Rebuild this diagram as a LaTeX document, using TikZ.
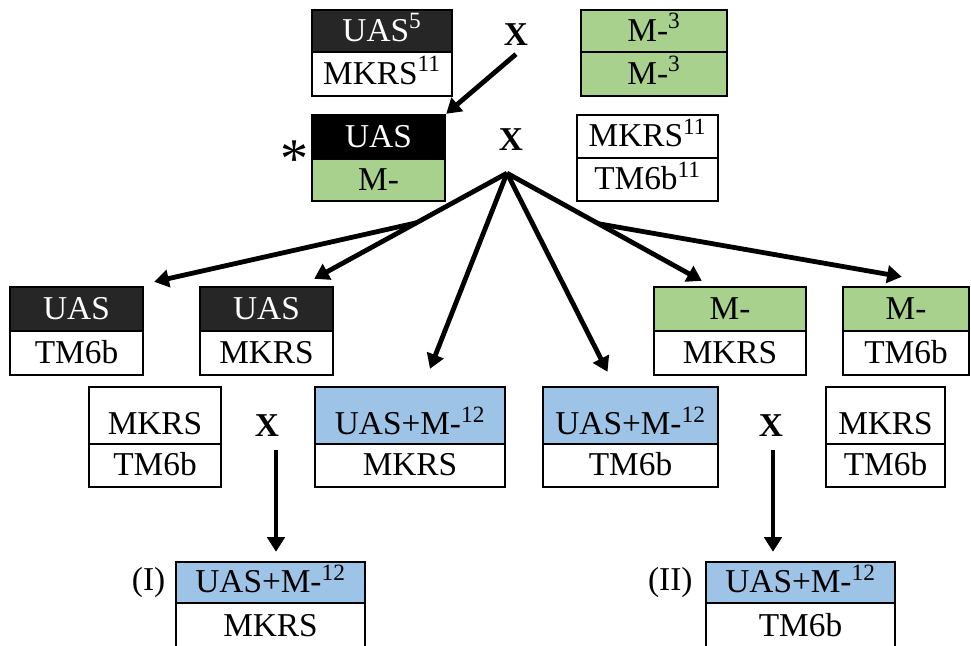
\documentclass[tikz,border=0pt]{standalone}
\usepackage{fontspec}
\setmainfont{Liberation Serif}
\usepackage{tikz}
\usetikzlibrary{arrows.meta,calc}
\definecolor{uasgray}{HTML}{262626}
\definecolor{mgreen}{HTML}{A9D18E}
\definecolor{mblue}{HTML}{9DC3E6}
\newcommand{\cellfont}{\fontsize{25}{30}\selectfont}

\begin{document}
\begin{tikzpicture}[x=0.75pt,y=-0.75pt]
                \tikzset{cell/.style = {draw, line width=1.8pt, inner sep=0pt, font=\cellfont, text height=20pt, text depth=5pt}}
                \tikzset{wd/.style = {minimum width=#1*0.75pt}}
                \tikzset{ht/.style = {minimum height=#1*0.75pt}}
                \tikzset{tall/.style = {text height=34pt, minimum height=57*0.75pt}}
                \tikzset{darkcell/.style = {cell, fill=uasgray, text=white}}
                \tikzset{blackcell/.style = {cell, fill=black, text=white}}
                \tikzset{greencell/.style = {cell, fill=mgreen}}
                \tikzset{bluecell/.style = {cell, fill=mblue}}
                \tikzset{cross/.style = {font=\cellfont\bfseries, inner sep=0pt}}
                \tikzset{edge/.style = {-{Triangle[length=11pt,width=13pt]}, line width=3.6pt}}
                \useasboundingbox (0,0) rectangle (971,646);

                % parents
                \node[darkcell, wd=140, ht=42] (a1) at (382,31) {UAS\textsuperscript{5}};
                \node[cell, wd=140, ht=44] (a2) at (382,74) {MKRS\textsuperscript{11}};
                \node[cross] (xtop) at (516,35) {X};
                \node[greencell, wd=146, ht=42] (b1) at (654,31) {M-\textsuperscript{3}};
                \node[greencell, wd=146, ht=44] (b2) at (654,74) {M-\textsuperscript{3}};

                \node[blackcell, wd=133, ht=44] (c1) at (378.5,137) {UAS};
                \node[greencell, wd=133, ht=42] (c2) at (378.5,180) {M-};
                \node[inner sep=0pt, font=\fontsize{42}{42}\selectfont] (star) at (294,159) {*};
                \node[cross] (xmid) at (511,140) {X};
                \node[cell, wd=141, ht=43] (d1) at (647.5,136.5) {MKRS\textsuperscript{11}};
                \node[cell, wd=141, ht=43] (d2) at (647.5,179.5) {TM6b\textsuperscript{11}};

                % offspring
                \node[darkcell, wd=133, ht=44] (e1) at (76.5,309) {UAS};
                \node[cell, wd=133, ht=44] (e2) at (76.5,353) {TM6b};
                \node[darkcell, wd=133, ht=44] (f1) at (266.5,309) {UAS};
                \node[cell, wd=133, ht=44] (f2) at (266.5,353) {MKRS};
                \node[greencell, wd=152, ht=44] (g1) at (730,309) {M-};
                \node[cell, wd=152, ht=44] (g2) at (730,353) {MKRS};
                \node[greencell, wd=126, ht=44] (h1) at (906,309) {M-};
                \node[cell, wd=126, ht=44] (h2) at (906,353) {TM6b};

                \node[cell, tall, wd=132] (i1) at (155,415.5) {MKRS};
                \node[cell, wd=132, ht=43] (i2) at (155,465.5) {TM6b};
                \node[cross] (xl) at (267,426) {X};
                \node[bluecell, tall, wd=190] (j1) at (410,415.5) {UAS+M-\textsuperscript{12}};
                \node[cell, wd=190, ht=43] (j2) at (410,465.5) {MKRS};
                \node[bluecell, tall, wd=175] (k1) at (630.5,415.5) {UAS+M-\textsuperscript{12}};
                \node[cell, wd=175, ht=43] (k2) at (630.5,465.5) {TM6b};
                \node[cross] (xr) at (771,426) {X};
                \node[cell, tall, wd=119] (l1) at (885.5,415.5) {MKRS};
                \node[cell, wd=119, ht=43] (l2) at (885.5,465.5) {TM6b};

                % stocks
                \node[bluecell, wd=189, ht=41] (m1) at (270.5,582.5) {UAS+M-\textsuperscript{12}};
                \node[cell, wd=189, ht=46] (m2) at (270.5,626) {MKRS};
                \node[anchor=east, inner sep=1pt, font=\cellfont] (lab1) at ([xshift=-6]m1.west) {(I)};
                \node[bluecell, wd=189, ht=41] (n1) at (800.5,582.5) {UAS+M-\textsuperscript{12}};
                \node[cell, wd=189, ht=46] (n2) at (800.5,626) {TM6b};
                \node[anchor=east, inner sep=1pt, font=\cellfont] (lab2) at ([xshift=-8]n1.west) {(II)};

                %edges
                \coordinate (fan) at ($(xmid.south)+(-4,22)$);
                \coordinate (tE) at ([shift={(10,-4)}]e1.north east);
                \coordinate (tF) at ([shift={(-20,-7)}]f1.north east);
                \coordinate (tJ) at ([shift={(20,-17)}]j1.north);
                \coordinate (tK) at ([shift={(-23,-14)}]k1.north);
                \coordinate (tG) at ([shift={(49,-5)}]g1.north west);
                \coordinate (tH) at ([shift={(60,-9)}]h1.north west);
                \coordinate (bl) at ($(fan)!0.47!(tF)$);
                \coordinate (br) at ($(fan)!0.47!(tG)$);

                \draw[edge] ($(xtop.south)+(0,8)$) to (c1.north east);
                \draw[edge] (fan) to (tF);
                \draw[edge] (bl) to (tE);
                \draw[edge] (fan) to (tJ);
                \draw[edge] (fan) to (tK);
                \draw[edge] (fan) to (tG);
                \draw[edge] (br) to (tH);
                \draw[edge] ($(xl.south)+(9,13)$) to ($(xl.south |- m1.north)+(9,-9)$);
                \draw[edge] ($(xr.south)+(2,13)$) to ($(xr.south |- n1.north)+(2,-9)$);
            \end{tikzpicture}
\end{document}
